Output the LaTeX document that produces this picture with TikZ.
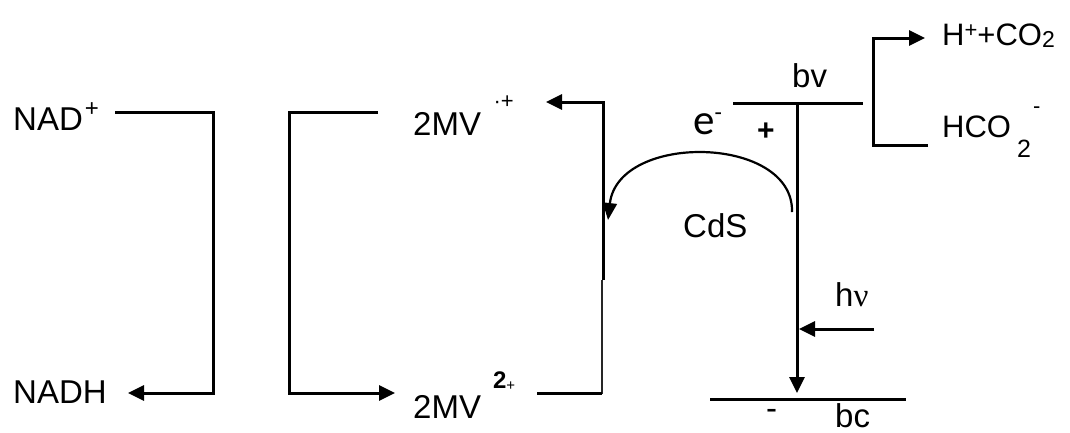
\documentclass[tikz,border=0pt]{standalone}
\usepackage{fontspec}
\setmainfont{Liberation Sans}
\newfontfamily\calib{Carlito}
\newfontfamily\serifg{Liberation Serif}
\usetikzlibrary{arrows.meta}
\newcommand{\fsz}[1]{\fontsize{#1}{#1}\selectfont}
\begin{document}
\begin{tikzpicture}[x=1pt,y=-1pt,
  ln/.style={line width=3pt, line join=miter},
  thinln/.style={line width=2.4pt, draw=black!85},
  arr/.style={ln, -{Triangle[length=16pt,width=15pt]}},
  curvearr/.style={line width=2.2pt, -{Triangle[length=17pt,width=14pt]}},
  lbl/.style={inner sep=0pt, anchor=base west, font=\fsz{33}}]
\useasboundingbox (0,0) rectangle (1070,432);
\clip (0,0) rectangle (1070,432);
\fill[white] (0,0) rectangle (1070,432);

% left bracket NAD+ -> NADH
\coordinate (n1) at (115,112);
\coordinate (n2) at (213,112);
\coordinate (n3) at (213,393);
\coordinate (n4) at (128,393);
\draw[arr] (n1) -- (n2) -- (n3) -- (n4);

% second bracket 2MV.+ -> 2MV2+
\coordinate (m1) at (378,112);
\coordinate (m2) at (289,112);
\coordinate (m3) at (289,393);
\coordinate (m4) at (395,393);
\draw[arr] (m1) -- (m2) -- (m3) -- (m4);

% right bracket 2MV2+ -> 2MV.+
\coordinate (r1) at (537,393);
\coordinate (r2) at (602,393);
\coordinate (r3) at (602,280);
\coordinate (r4) at (603,280);
\coordinate (r5) at (603,102);
\coordinate (r6) at (546,102);
\draw[thinln] (r1) -- (r2) -- (r3);
\draw[ln] (r1) -- (r2);
\draw[arr] (r4) -- (r5) -- (r6);

% band diagram
\coordinate (bv1) at (733,103);
\coordinate (bv2) at (863,103);
\coordinate (bvm) at (797,103);
\coordinate (bcm) at (797,393);
\coordinate (bc1) at (710,399);
\coordinate (bc2) at (906,399);
\draw[ln] (bv1) -- (bv2);
\draw[ln] (bc1) -- (bc2);
\draw[arr] (bvm) -- (bcm);

% h nu arrow
\coordinate (hv1) at (874,329);
\coordinate (hv2) at (799,329);
\draw[arr] (hv1) -- (hv2);

% electron transfer curve
\coordinate (c1) at (792,212);
\coordinate (c2) at (608,220);
\draw[curvearr] (c1) .. controls (794,135) and (618,132) .. (c2);

% oxidation of formate
\coordinate (f1) at (928,145);
\coordinate (f2) at (873,145);
\coordinate (f3) at (873,38);
\coordinate (f4) at (925,38);
\draw[arr] (f1) -- (f2) -- (f3) -- (f4);

% labels
\node[lbl] (nad) at (13,130) {NAD\hspace{2pt}\raisebox{14pt}{\fsz{24}+}};
\node[lbl] (nadh) at (13,403) {NADH};
\node[lbl] (mvr) at (413,135) {2MV\hspace{12.5pt}\raisebox{27pt}{\fsz{22}·+}};
\node[lbl] (mvo) at (413,418) {2MV\hspace{12pt}\raisebox{30pt}{\fsz{24}\bfseries 2}\raisebox{28pt}{\fsz{15}+}};
\node[lbl] (cds) at (683,237) {CdS};
\node[lbl, font=\calib\fsz{43}] (el) at (693,134) {e\raisebox{14pt}{\fsz{24}-}};
\node[lbl, font=\bfseries\fsz{30}] (hole) at (757,140) {+};
\node[lbl] (bv) at (792,87) {bv};
\node[lbl] (bc) at (835,427) {bc};
\node[lbl] (minus) at (766,419) {-};
\node[lbl] (hnu) at (835,306) {h{\serifg ν}};
\node[lbl, font=\fsz{31}] (prod) at (942,45) {H\raisebox{8pt}{\fsz{22}+}+CO\raisebox{-2pt}{\fsz{23}2}};
\node[lbl, font=\fsz{31}] (form) at (942,137) {HCO\hspace{6pt}\raisebox{-20pt}{\fsz{25}2}\hspace{2pt}\raisebox{24pt}{\fsz{22}-}};
\end{tikzpicture}
\end{document}
